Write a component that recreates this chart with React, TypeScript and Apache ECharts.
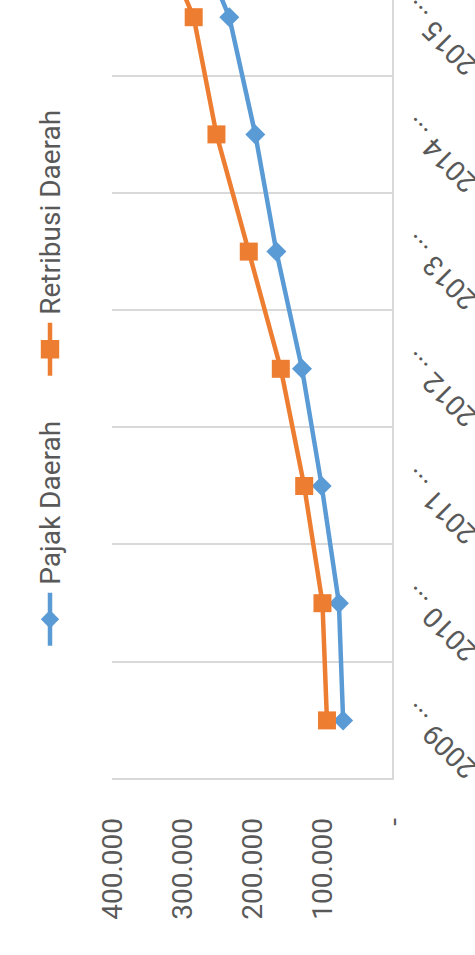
import React, { useEffect, useRef } from "react";
import * as echarts from "echarts";

// Categories (the chart is cropped: the last category lies beyond the picture's edge)
const years = ["2009 ...", "2010 ...", "2011 ...", "2012 ...", "2013 ...", "2014 ...", "2015 ...", "2016 ..."];
const pajakDaerah = [71000, 77000, 101500, 129500, 166000, 196000, 233000, 302000];
const retribusiDaerah = [94000, 100400, 126400, 159700, 205300, 251300, 283700, 355000];
const seriesNames = ["Pajak Daerah", "Retribusi Daerah"];
const valueMin = 0;
const valueMax = 400000;
const valueStep = 100000;

const W = 1170; // width of the un-rotated chart
const H = 475; // height of the un-rotated chart
const PAGE_H = 955;

const FONT = "Roboto";
const TEXT = "#595959";
const GRID = "#d9d9d9";
const BLUE = "#5B9BD5";
const ORANGE = "#ED7D31";

function fmtValue(v: number): string {
  if (v === 0) return "-";
  const s = String(Math.round(v));
  return s.replace(/\B(?=(\d{3})+(?!\d))/g, ".");
}

export default function App() {
  const ref = useRef<HTMLDivElement>(null);

  useEffect(() => {
    if (!ref.current) return;
    document.body.style.overflow = "hidden";
    const chart = echarts.init(ref.current, undefined, { renderer: "svg", width: W, height: H });
    const catWidth = 117.2;
    const legendCommon = {
      top: 31,
      itemWidth: 53,
      itemHeight: 23,
      lineStyle: { width: 4.5 },
      textStyle: { fontSize: 28, color: TEXT, fontFamily: FONT, padding: [0, 0, 0, 3] },
    };
    chart.setOption({
      animation: false,
      backgroundColor: "#ffffff",
      textStyle: { fontFamily: FONT },
      legend: [
        { ...legendCommon, data: [seriesNames[0]], left: 302 },
        { ...legendCommon, data: [seriesNames[1]], left: 572 },
      ],
      grid: {
        left: 176,
        top: 112,
        height: 281,
        width: catWidth * years.length,
        containLabel: false,
        outerBoundsMode: "none",
      },
      xAxis: {
        type: "category",
        data: years,
        boundaryGap: true,
        axisLine: { show: true, lineStyle: { color: GRID, width: 2 } },
        axisTick: { show: false },
        splitLine: { show: true, lineStyle: { color: GRID, width: 2 } },
        axisLabel: {
          rotate: 45,
          interval: 0,
          margin: 26,
          fontSize: 28,
          color: TEXT,
          fontFamily: FONT,
          padding: [0, -17, -17, 0],
        },
      },
      yAxis: {
        type: "value",
        min: valueMin,
        max: valueMax,
        interval: valueStep,
        axisLine: { show: false },
        axisTick: { show: false },
        splitLine: { show: false },
        axisLabel: {
          margin: 39,
          fontSize: 28,
          color: TEXT,
          fontFamily: FONT,
          formatter: (v: number) => fmtValue(v),
        },
      },
      series: [
        {
          name: seriesNames[0],
          type: "line",
          data: pajakDaerah,
          symbol: "diamond",
          symbolSize: 20,
          lineStyle: { color: BLUE, width: 4.5 },
          itemStyle: { color: BLUE },
        },
        {
          name: seriesNames[1],
          type: "line",
          data: retribusiDaerah,
          symbol: "rect",
          symbolSize: 18,
          lineStyle: { color: ORANGE, width: 4.5 },
          itemStyle: { color: ORANGE },
        },
      ],
    });
    return () => chart.dispose();
  }, []);

  return (
    <div
      ref={ref}
      style={{
        position: "absolute",
        left: 0,
        top: 0,
        width: W,
        height: H,
        transformOrigin: "0 0",
        transform: `translate(0px, ${PAGE_H}px) rotate(-90deg)`,
      }}
    />
  );
}
